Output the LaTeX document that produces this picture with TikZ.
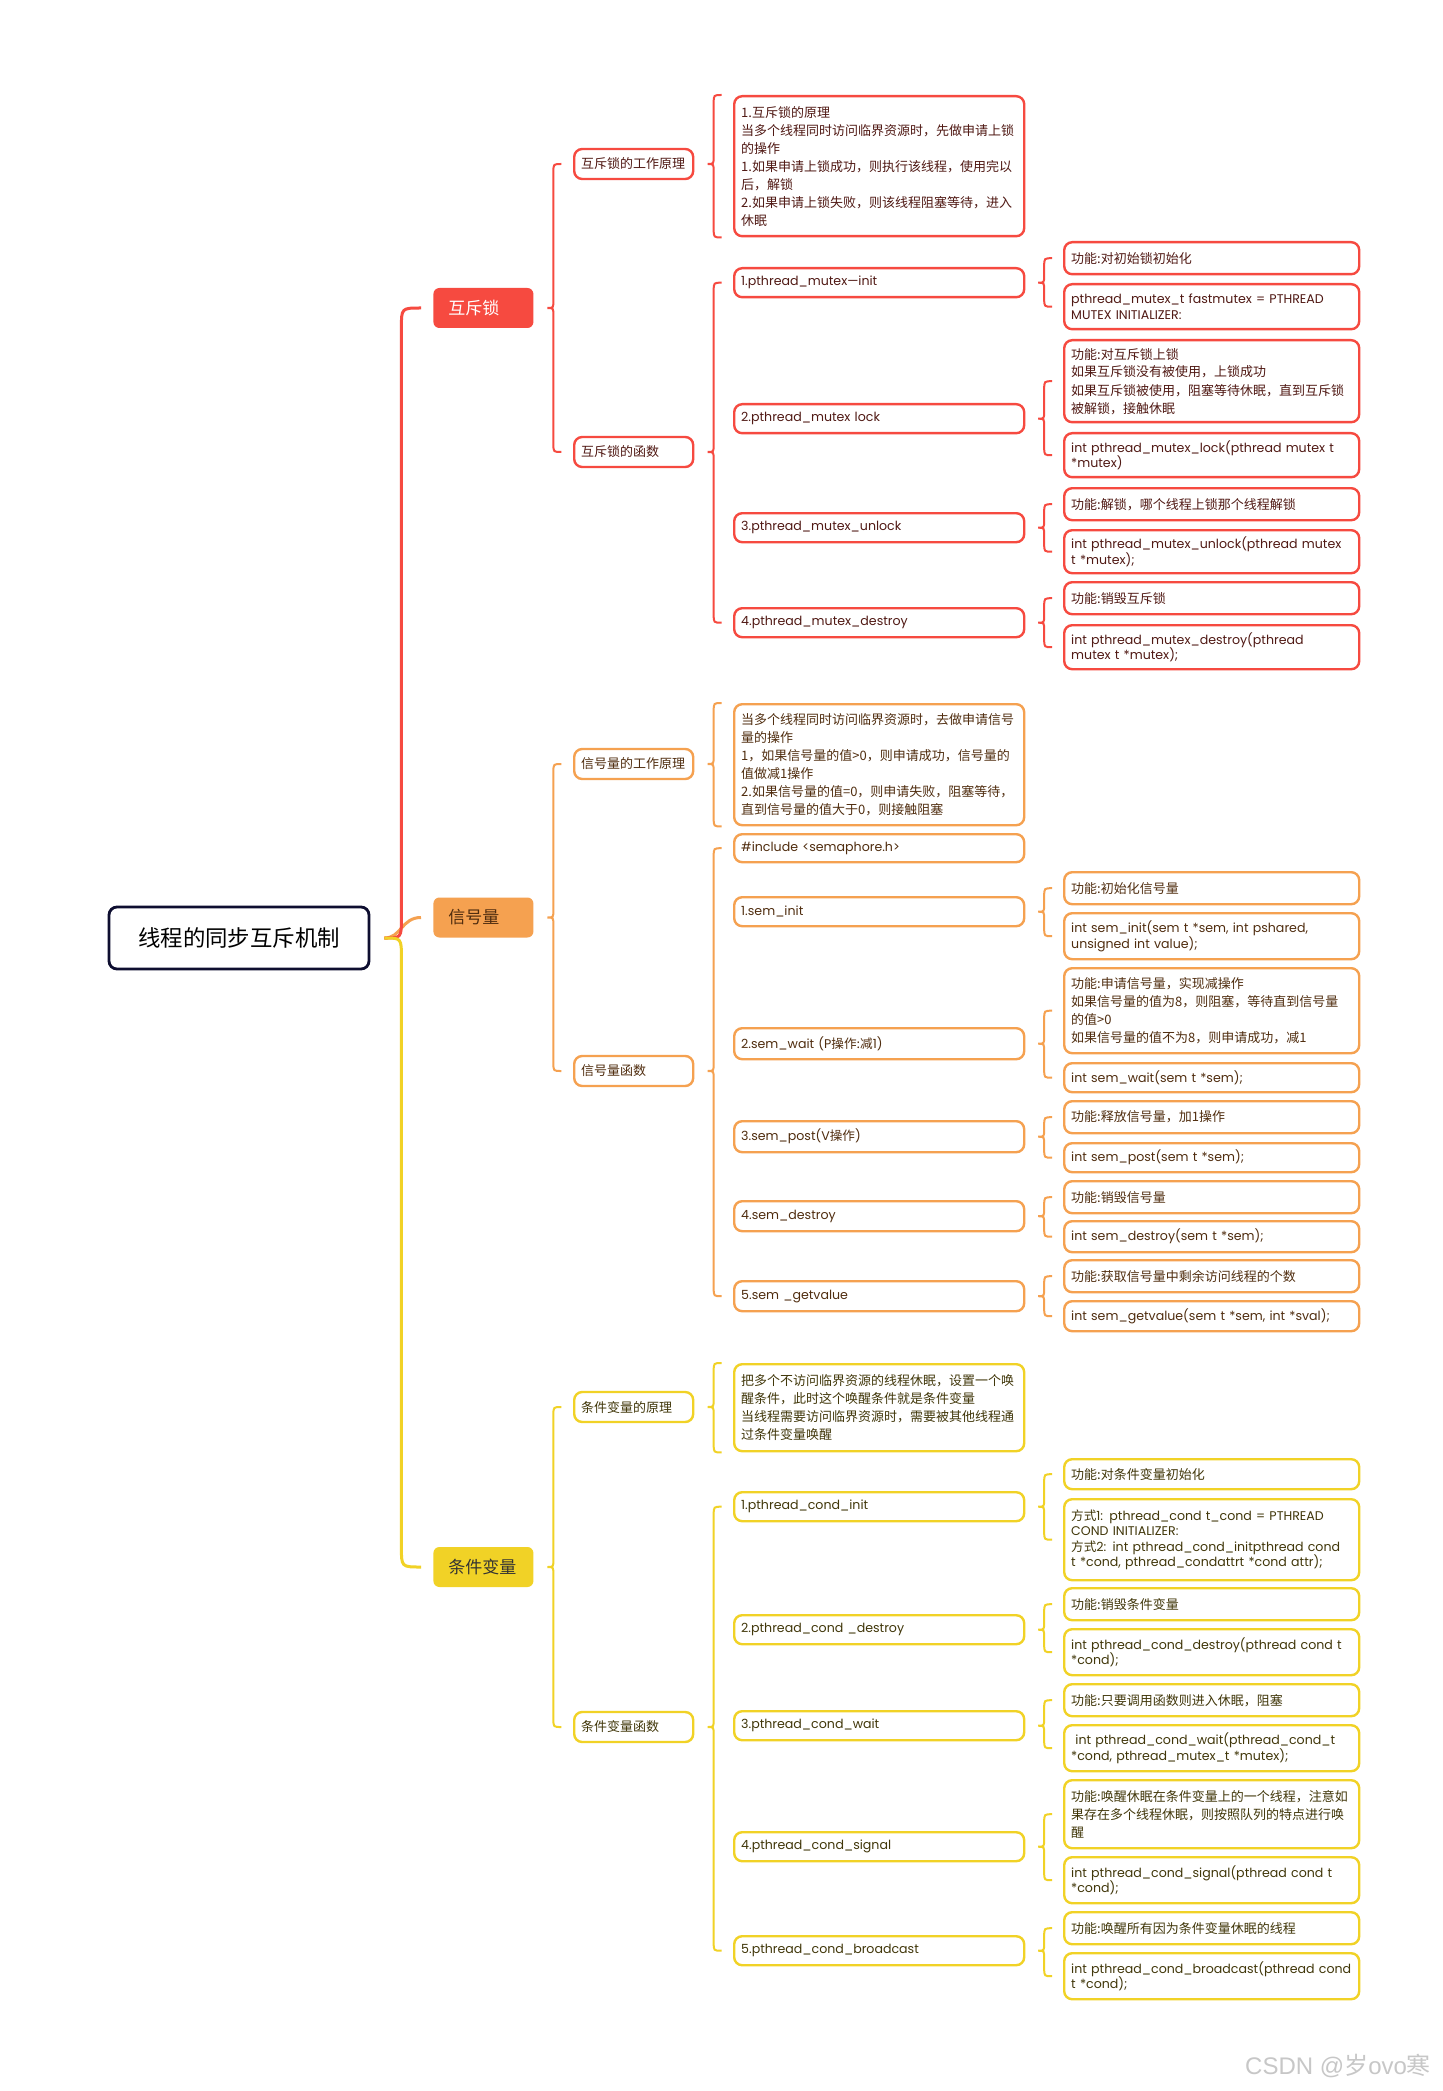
\documentclass[tikz,border=0pt]{standalone}
\usepackage{fontspec}
\setmainfont{Poppins}
\newfontfamily\cjk{Noto Sans CJK SC}
\newfontfamily\wmfont{Liberation Sans}
\usetikzlibrary{calc}

\definecolor{mred}{RGB}{246,74,64}
\definecolor{mora}{RGB}{245,161,80}
\definecolor{myel}{RGB}{241,210,38}
\definecolor{mnavy}{RGB}{14,14,48}
\definecolor{tred}{RGB}{80,25,20}
\definecolor{tora}{RGB}{80,45,15}
\definecolor{tyel}{RGB}{65,55,10}

\newcommand\bracelink[4]{%
  \draw[#1] let \p1=($(#2.east)!0.5!(#3)$), \p2=(#2.east), \p3=(#3), \p4=(#4) in
    (\x1+4pt,\y3) .. controls (\x1,\y3) .. (\x1,\y3-4pt)
    -- (\x1,\y2+4pt) .. controls (\x1,\y2) .. (\x1-3pt,\y2)
    .. controls (\x1,\y2) .. (\x1,\y2-4pt)
    -- (\x1,\y4+4pt) .. controls (\x1,\y4) .. (\x1+4pt,\y4);}

\begin{document}
\begin{tikzpicture}[x=1pt, y=-1pt,
    root/.style={draw=mnavy, line width=1.4pt, rounded corners=4pt, minimum width=130pt, minimum height=31pt, font=\cjk\fontsize{11.2}{13}\selectfont},
    topic/.style={anchor=west, rounded corners=3pt, minimum height=20pt, text width=35pt, inner xsep=7.5pt, align=left, font=\cjk\fontsize{8.5}{10}\selectfont},
    sub/.style={draw, line width=1.2pt, rounded corners=4pt, fill=white, align=left, inner xsep=3.5pt, inner ysep=1.5pt},
    lvtwo/.style={sub, anchor=west, text width=52.5pt, minimum height=15pt},
    lvthree/.style={sub, anchor=north west, text width=138pt},
    lvfour/.style={sub, anchor=north west, text width=140.5pt},
    zh/.style={font=\cjk\fontsize{6.5}{9}\selectfont},
    code/.style={font=\fontsize{6.3}{7.8}\selectfont},
    redb/.style={draw=mred, text=tred},
    orab/.style={draw=mora, text=tora},
    yelb/.style={draw=myel, text=tyel},
    link/.style={line width=1pt},
    trunk/.style={line width=1.5pt}
]
\fill[white] (0,0) rectangle (721.5,1045.5);
\useasboundingbox (0,0) rectangle (721.5,1045.5);

\node[root] (root) at (119.5,469) {线程的同步互斥机制};
\node[topic, fill=mred, text=white] (mutex) at (216.5,154) {互斥锁};
\node[topic, fill=mora, text=tora] (sema) at (216.5,458.75) {信号量};
\node[topic, fill=myel, text=black!80] (cond) at (216.5,783.5) {条件变量};

\node[lvtwo, redb, zh] (mutexwork) at (286.5,82) {互斥锁的工作原理};
\node[lvtwo, redb, zh] (mutexfunc) at (286.5,226) {互斥锁的函数};
\node[lvtwo, orab, zh] (semawork) at (286.5,382) {信号量的工作原理};
\node[lvtwo, orab, zh] (semafunc) at (286.5,535.5) {信号量函数};
\node[lvtwo, yelb, zh] (condwork) at (286.5,703.5) {条件变量的原理};
\node[lvtwo, yelb, zh] (condfunc) at (286.5,863.5) {条件变量函数};

\node[lvthree, redb, zh, minimum height=70pt] (mutexprin) at (366.5,47.5) {1.互斥锁的原理\\当多个线程同时访问临界资源时，先做申请上锁\\的操作\\1.如果申请上锁成功，则执行该线程，使用完以\\后，解锁\\2.如果申请上锁失败，则该线程阻塞等待，进入\\休眠};
\node[lvthree, redb, code, minimum height=14.5pt] (mutexinit) at (366.5,133.5) {1.pthread\_mutex—init};
\node[lvthree, redb, code, minimum height=14.5pt] (mutexlock) at (366.5,201.5) {2.pthread\_mutex lock};
\node[lvthree, redb, code, minimum height=14.5pt] (mutexunlock) at (366.5,256) {3.pthread\_mutex\_unlock};
\node[lvthree, redb, code, minimum height=14.5pt] (mutexdestroy) at (366.5,303.5) {4.pthread\_mutex\_destroy};

\node[lvfour, redb, zh, minimum height=16pt] (mutexinitF) at (531.5,120.5) {功能:对初始锁初始化};
\node[lvfour, redb, code, minimum height=22.5pt] (mutexinitC) at (531.5,141.5) {pthread\_mutex\_t fastmutex = PTHREAD\\MUTEX INITIALIZER:};
\node[lvfour, redb, zh, minimum height=41pt] (mutexlockF) at (531.5,169.5) {功能:对互斥锁上锁\\如果互斥锁没有被使用，上锁成功\\如果互斥锁被使用，阻塞等待休眠，直到互斥锁\\被解锁，接触休眠};
\node[lvfour, redb, code, minimum height=22pt] (mutexlockC) at (531.5,216) {int pthread\_mutex\_lock(pthread mutex t\\{}*mutex)};
\node[lvfour, redb, zh, minimum height=16pt] (mutexunlockF) at (531.5,243.5) {功能:解锁，哪个线程上锁那个线程解锁};
\node[lvfour, redb, code, minimum height=21.5pt] (mutexunlockC) at (531.5,264.5) {int pthread\_mutex\_unlock(pthread mutex\\t *mutex);};
\node[lvfour, redb, zh, minimum height=16pt] (mutexdestroyF) at (531.5,290.5) {功能:销毁互斥锁};
\node[lvfour, redb, code, minimum height=22pt] (mutexdestroyC) at (531.5,312) {int pthread\_mutex\_destroy(pthread\\mutex t *mutex);};

\node[lvthree, orab, zh, minimum height=60.5pt] (semaprin) at (366.5,351.5) {当多个线程同时访问临界资源时，去做申请信号\\量的操作\\1，如果信号量的值>0，则申请成功，信号量的\\值做减1操作\\2.如果信号量的值=0，则申请失败，阻塞等待，\\直到信号量的值大于0，则接触阻塞};
\node[lvthree, orab, code, minimum height=14pt] (semainc) at (366.5,416.5) {\#include <semaphore.h>};
\node[lvthree, orab, code, minimum height=14.5pt] (semainit) at (366.5,448) {1.sem\_init};
\node[lvthree, orab, code, minimum height=15.5pt] (semawait) at (366.5,513.5) {2.sem\_wait (P{\cjk 操作:减}1)};
\node[lvthree, orab, code, minimum height=15.5pt] (semapost) at (366.5,560) {3.sem\_post(V{\cjk 操作})};
\node[lvthree, orab, code, minimum height=15pt] (semadestroy) at (366.5,600) {4.sem\_destroy};
\node[lvthree, orab, code, minimum height=15pt] (semaget) at (366.5,640) {5.sem \_getvalue};

\node[lvfour, orab, zh, minimum height=16pt] (semainitF) at (531.5,435.5) {功能:初始化信号量};
\node[lvfour, orab, code, minimum height=23pt] (semainitC) at (531.5,456) {int sem\_init(sem t *sem, int pshared,\\unsigned int value);};
\node[lvfour, orab, zh, minimum height=42.5pt] (semawaitF) at (531.5,483.5) {功能:申请信号量，实现减操作\\如果信号量的值为8，则阻塞，等待直到信号量\\的值>0\\如果信号量的值不为8，则申请成功，减1};
\node[lvfour, orab, code, minimum height=14.5pt] (semawaitC) at (531.5,531) {int sem\_wait(sem t *sem);};
\node[lvfour, orab, zh, minimum height=16pt] (semapostF) at (531.5,550) {功能:释放信号量，加1操作};
\node[lvfour, orab, code, minimum height=14.5pt] (semapostC) at (531.5,571) {int sem\_post(sem t *sem);};
\node[lvfour, orab, zh, minimum height=16pt] (semadestroyF) at (531.5,590) {功能:销毁信号量};
\node[lvfour, orab, code, minimum height=15.5pt] (semadestroyC) at (531.5,610) {int sem\_destroy(sem t *sem);};
\node[lvfour, orab, zh, minimum height=16pt] (semagetF) at (531.5,629.5) {功能:获取信号量中剩余访问线程的个数};
\node[lvfour, orab, code, minimum height=15pt] (semagetC) at (531.5,650) {int sem\_getvalue(sem t *sem, int *sval);};

\node[lvthree, yelb, zh, minimum height=43.5pt] (condprin) at (366.5,681.5) {把多个不访问临界资源的线程休眠，设置一个唤\\醒条件，此时这个唤醒条件就是条件变量\\当线程需要访问临界资源时，需要被其他线程通\\过条件变量唤醒};
\node[lvthree, yelb, code, minimum height=14.5pt] (condinit) at (366.5,745.5) {1.pthread\_cond\_init};
\node[lvthree, yelb, code, minimum height=14.5pt] (conddestroy) at (366.5,807) {2.pthread\_cond \_destroy};
\node[lvthree, yelb, code, minimum height=14.5pt] (condwait) at (366.5,855) {3.pthread\_cond\_wait};
\node[lvthree, yelb, code, minimum height=14.5pt] (condsignal) at (366.5,915.5) {4.pthread\_cond\_signal};
\node[lvthree, yelb, code, minimum height=14.5pt] (condbcast) at (366.5,967.5) {5.pthread\_cond\_broadcast};

\node[lvfour, yelb, zh, minimum height=15pt] (condinitF) at (531.5,729) {功能:对条件变量初始化};
\node[lvfour, yelb, code, minimum height=40.5pt] (condinitC) at (531.5,749) {{\cjk 方式}1: pthread\_cond t\_cond = PTHREAD\\COND INITIALIZER:\\{\cjk 方式}2: int pthread\_cond\_initpthread cond\\t *cond, pthread\_condattrt *cond attr);};
\node[lvfour, yelb, zh, minimum height=16pt] (conddestroyF) at (531.5,793.5) {功能:销毁条件变量};
\node[lvfour, yelb, code, minimum height=23pt] (conddestroyC) at (531.5,814) {int pthread\_cond\_destroy(pthread cond t\\{}*cond);};
\node[lvfour, yelb, zh, minimum height=16pt] (condwaitF) at (531.5,841.5) {功能:只要调用函数则进入休眠，阻塞};
\node[lvfour, yelb, code, minimum height=23pt] (condwaitC) at (531.5,862) {\ int pthread\_cond\_wait(pthread\_cond\_t\\{}*cond, pthread\_mutex\_t *mutex);};
\node[lvfour, yelb, zh, minimum height=34pt] (condsignalF) at (531.5,889.5) {功能:唤醒休眠在条件变量上的一个线程，注意如\\果存在多个线程休眠，则按照队列的特点进行唤\\醒};
\node[lvfour, yelb, code, minimum height=23pt] (condsignalC) at (531.5,928) {int pthread\_cond\_signal(pthread cond t\\{}*cond);};
\node[lvfour, yelb, zh, minimum height=16pt] (condbcastF) at (531.5,955.5) {功能:唤醒所有因为条件变量休眠的线程};
\node[lvfour, yelb, code, minimum height=23pt] (condbcastC) at (531.5,976) {int pthread\_cond\_broadcast(pthread cond\\t *cond);};

\node[text=black!22, font=\wmfont\fontsize{12}{14}\selectfont, anchor=east] (mark) at (719,1033) {CSDN @{\cjk 岁}ovo{\cjk 寒}};

\draw[mora, trunk] let \p1=(root.east), \p2=(sema.west) in (\x1+7pt,\y1) .. controls (\x1+15.5pt,\y1) and (\x1+15.5pt,\y2) .. (\x2-6pt,\y2);
\draw[mred, trunk] let \p1=(root.east), \p2=(mutex.west) in (\x1+7pt,\y1) .. controls (\x1+15.5pt,\y1) .. (\x1+15.5pt,\y1+10pt) -- (\x1+15.5pt,\y2-10pt) .. controls (\x1+15.5pt,\y2) .. (\x2-6pt,\y2);
\draw[myel, trunk] let \p1=(root.east), \p2=(cond.west) in (\x1+7pt,\y1) .. controls (\x1+15.5pt,\y1) .. (\x1+15.5pt,\y1-10pt) -- (\x1+15.5pt,\y2+10pt) .. controls (\x1+15.5pt,\y2) .. (\x2-6pt,\y2);

\bracelink{mred,link}{mutex}{mutexwork.west}{mutexfunc.west}
\bracelink{mora,link}{sema}{semawork.west}{semafunc.west}
\bracelink{myel,link}{cond}{condwork.west}{condfunc.west}

\bracelink{mred,link}{mutexwork}{mutexprin.north west}{mutexprin.south west}
\bracelink{mred,link}{mutexfunc}{mutexinit.west}{mutexdestroy.west}
\bracelink{mora,link}{semawork}{semaprin.north west}{semaprin.south west}
\bracelink{mora,link}{semafunc}{semainc.west}{semaget.west}
\bracelink{myel,link}{condwork}{condprin.north west}{condprin.south west}
\bracelink{myel,link}{condfunc}{condinit.west}{condbcast.west}

\bracelink{mred,link}{mutexinit}{mutexinitF.west}{mutexinitC.west}
\bracelink{mred,link}{mutexlock}{mutexlockF.west}{mutexlockC.west}
\bracelink{mred,link}{mutexunlock}{mutexunlockF.west}{mutexunlockC.west}
\bracelink{mred,link}{mutexdestroy}{mutexdestroyF.west}{mutexdestroyC.west}
\bracelink{mora,link}{semainit}{semainitF.west}{semainitC.west}
\bracelink{mora,link}{semawait}{semawaitF.west}{semawaitC.west}
\bracelink{mora,link}{semapost}{semapostF.west}{semapostC.west}
\bracelink{mora,link}{semadestroy}{semadestroyF.west}{semadestroyC.west}
\bracelink{mora,link}{semaget}{semagetF.west}{semagetC.west}
\bracelink{myel,link}{condinit}{condinitF.west}{condinitC.west}
\bracelink{myel,link}{conddestroy}{conddestroyF.west}{conddestroyC.west}
\bracelink{myel,link}{condwait}{condwaitF.west}{condwaitC.west}
\bracelink{myel,link}{condsignal}{condsignalF.west}{condsignalC.west}
\bracelink{myel,link}{condbcast}{condbcastF.west}{condbcastC.west}
\end{tikzpicture}
\end{document}
